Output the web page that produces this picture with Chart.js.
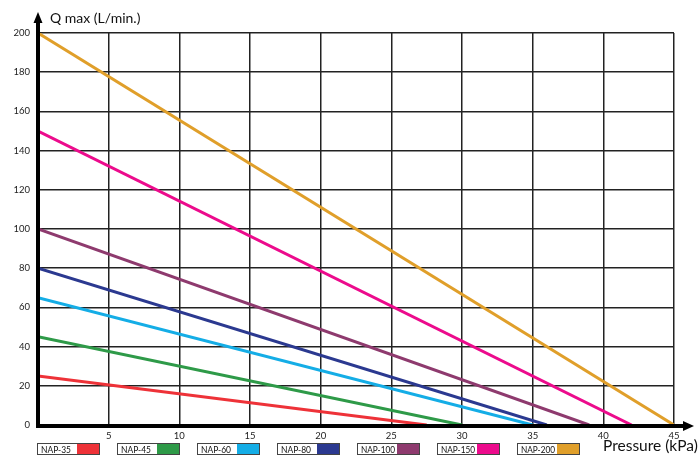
<!DOCTYPE html>
<html>
<head>
<meta charset="utf-8">
<script src="https://cdn.jsdelivr.net/npm/chart.js@4"></script>
<style>
  html, body { margin: 0; padding: 0; background: #fff; }
  #wrap { width: 698px; height: 456px; position: relative; }
</style>
</head>
<body>
<div id="wrap"><canvas id="chart" width="698" height="456"></canvas></div>
<script>
// pump models and their straight flow lines (pressure kPa -> Q max L/min)
const models = ['NAP-35', 'NAP-45', 'NAP-60', 'NAP-80', 'NAP-100', 'NAP-150', 'NAP-200']
const colors = ['#ee3238', '#2e9a48', '#14ade6', '#2b3990', '#8e3a6e', '#ec0b8c', '#e09f2a']
const pressure = [
    [0, 27.5],
    [0, 30],
    [0, 35],
    [0, 36],
    [0, 39],
    [0, 42],
    [0, 45]
]
const flow = [
    [25, 0],
    [45, 0],
    [65, 0],
    [80, 0],
    [100, 0],
    [150, 0],
    [200, 0]
]
const xTicks = [5, 10, 15, 20, 25, 30, 35, 40, 45]
const yTicks = [0, 20, 40, 60, 80, 100, 120, 140, 160, 180, 200]

const FONT = 'Lato, "Open Sans", sans-serif'

const datasets = models.map((name, i) => ({
    label: name,
    data: pressure[i].map((p, j) => ({ x: p, y: flow[i][j] })),
    borderColor: colors[i],
    backgroundColor: colors[i],
    borderWidth: 3,
    pointRadius: 0,
    fill: false
}))

// thick axes with arrow heads, axis titles and the boxed legend
const decor = {
    id: 'decor',
    afterDraw(chart) {
        const ctx = chart.ctx
        const a = chart.chartArea
        ctx.save()
        ctx.fillStyle = '#000'
        // y axis shaft + arrow
        ctx.fillRect(a.left - 2, 20, 4, a.bottom + 3 - 20)
        ctx.beginPath()
        ctx.moveTo(a.left, 12)
        ctx.lineTo(a.left - 4.5, 23)
        ctx.lineTo(a.left + 4.5, 23)
        ctx.closePath()
        ctx.fill()
        // x axis shaft + arrow
        ctx.fillRect(a.left - 2, a.bottom - 1, 686 - a.left, 4)
        ctx.beginPath()
        ctx.moveTo(694, a.bottom + 1)
        ctx.lineTo(683, a.bottom - 4)
        ctx.lineTo(683, a.bottom + 6)
        ctx.closePath()
        ctx.fill()

        ctx.fillStyle = '#111'
        ctx.textBaseline = 'middle'
        ctx.textAlign = 'left'
        ctx.font = '14px ' + FONT
        ctx.fillText('Q max (L/min.)', 50, 18)
        ctx.font = '15.5px ' + FONT
        ctx.fillText('Pressure (kPa)', 603, 446)

        // legend boxes
        ctx.font = '10px ' + FONT
        chart.data.datasets.forEach((ds, i) => {
            const x = 37 + i * 80
            const y = 443
            const w = 63, h = 12, sw = 23
            ctx.fillStyle = '#fff'
            ctx.fillRect(x, y, w, h)
            ctx.fillStyle = ds.borderColor
            ctx.fillRect(x + w - sw, y, sw, h)
            ctx.strokeStyle = '#444'
            ctx.lineWidth = 1
            ctx.strokeRect(x + 0.5, y + 0.5, w - 1, h - 1)
            ctx.fillStyle = '#111'
            const maxW = ds.label.length > 6 ? 34 : 30
            ctx.fillText(ds.label, x + 4, y + h / 2 + 0.5, maxW)
        })
        ctx.restore()
    }
}

new Chart(document.getElementById('chart'), {
    type: 'line',
    data: { datasets },
    options: {
        responsive: false,
        animation: false,
        layout: { padding: { top: 33, right: 24, left: 0, bottom: 0 } },
        plugins: { legend: { display: false }, tooltip: { enabled: false } },
        scales: {
            x: {
                type: 'linear',
                min: 0,
                max: 45,
                afterBuildTicks: s => { s.ticks = xTicks.map(v => ({ value: v })) },
                afterFit: s => { s.height = 31 },
                border: { display: false },
                grid: { color: '#222', lineWidth: 1.5, drawTicks: false },
                ticks: { color: '#222', font: { family: FONT, size: 9.5 }, padding: 5, maxRotation: 0 }
            },
            y: {
                min: 0,
                max: 200,
                afterBuildTicks: s => { s.ticks = yTicks.map(v => ({ value: v })) },
                afterFit: s => { s.width = 38 },
                border: { display: false },
                grid: { color: '#222', lineWidth: 1.5, drawTicks: false },
                ticks: { color: '#222', font: { family: FONT, size: 9.5 }, padding: 8 }
            }
        }
    },
    plugins: [decor]
})
</script>
</body>
</html>
